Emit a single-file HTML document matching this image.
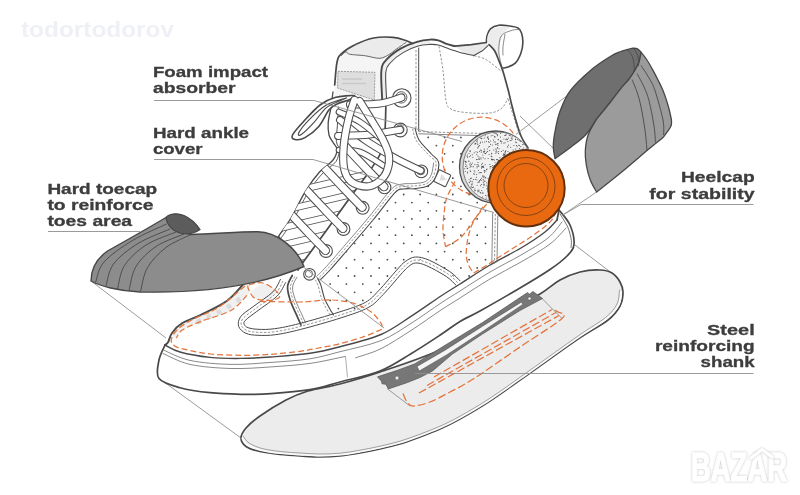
<!DOCTYPE html>
<html><head><meta charset="utf-8"><title>Shoe protection</title>
<style>
html,body{margin:0;padding:0;background:#fff;}
body{width:800px;height:495px;overflow:hidden;position:relative;}
svg{position:absolute;left:0;top:0;display:block;will-change:transform;}
.lbl{font-family:"Liberation Sans",sans-serif;font-weight:bold;font-size:15.3px;fill:#3d3d3d;stroke:#3d3d3d;stroke-width:.3;}
.o{fill:none;stroke:#494949;stroke-width:1.7;stroke-linecap:round;stroke-linejoin:round;}
.t{fill:none;stroke:#6a6a6a;stroke-width:.8;stroke-linecap:round;stroke-linejoin:round;}
.d{fill:none;stroke:#666;stroke-width:.7;stroke-dasharray:2.4 1.6;}
.od{fill:none;stroke:#e4743c;stroke-width:1.25;stroke-dasharray:6 3;stroke-linecap:butt;}
.ld{fill:none;stroke:#909090;stroke-width:.9;}
</style></head>
<body>
<svg width="800" height="495" viewBox="0 0 800 495">
<rect width="800" height="495" fill="#fff"/>
<path d="M91.0 281.0L166.0 338.0" class="ld"/>
<path d="M160.0 379.0L241.0 438.0" class="ld"/>
<path d="M575.0 245.0L609.0 271.0" class="ld"/>
<path d="M308.0 391.0C299.0 393.7 294.0 395.8 286.0 400.0C278.0 404.2 266.7 411.3 260.0 416.0C253.3 420.7 249.2 424.3 246.0 428.0C242.8 431.7 241.0 434.9 241.0 438.0C241.0 441.1 242.8 444.2 246.0 446.5C249.2 448.8 254.3 450.2 260.0 451.5C265.7 452.8 273.3 453.8 280.0 454.5C286.7 455.2 293.3 455.6 300.0 456.0C306.7 456.4 313.3 457.0 320.0 457.0C326.7 457.0 333.3 456.7 340.0 456.0C346.7 455.3 353.3 454.2 360.0 453.0C366.7 451.8 373.3 450.5 380.0 449.0C386.7 447.5 393.3 446.0 400.0 444.0C406.7 442.0 413.3 439.5 420.0 437.0C426.7 434.5 433.3 432.0 440.0 429.0C446.7 426.0 451.7 423.7 460.0 419.0C468.3 414.3 478.3 408.7 490.0 401.0C501.7 393.3 515.3 383.3 530.0 373.0C544.7 362.7 565.0 347.8 578.0 339.0C591.0 330.2 601.0 325.5 608.0 320.0C615.0 314.5 617.5 310.7 620.0 306.0C622.5 301.3 623.0 296.0 623.0 292.0C623.0 288.0 621.8 285.2 620.0 282.0C618.2 278.8 615.3 275.0 612.0 273.0C608.7 271.0 605.3 270.2 600.0 270.0C594.7 269.8 586.7 270.3 580.0 272.0C573.3 273.7 566.7 276.3 560.0 280.0C553.3 283.7 550.0 287.7 540.0 294.0C530.0 300.3 516.7 308.7 500.0 318.0C483.3 327.3 460.0 341.0 440.0 350.0C420.0 359.0 396.7 366.3 380.0 372.0C363.3 377.7 352.0 380.8 340.0 384.0C328.0 387.2 317.0 388.3 308.0 391.0Z" class="o" style="fill:#ececec"/>
<path d="M242.0 437.5C242.9 438.7 244.3 442.7 247.5 444.8C250.7 446.9 255.5 448.6 261.0 450.0C266.5 451.4 274.0 452.4 280.5 453.1C287.0 453.9 293.4 454.1 300.0 454.5C306.6 454.9 313.3 455.5 320.0 455.5C326.7 455.5 333.3 455.2 340.0 454.6C346.7 454.0 353.3 452.8 360.0 451.6C366.7 450.4 373.3 449.1 380.0 447.6C386.7 446.1 393.3 444.6 400.0 442.6C406.7 440.6 413.3 438.1 420.0 435.6C426.7 433.1 433.3 430.6 440.0 427.6C446.7 424.6 451.7 422.3 460.0 417.6C468.3 412.9 478.3 407.3 490.0 399.6C501.7 391.9 515.3 382.0 530.0 371.6C544.7 361.2 565.2 346.3 578.0 337.5C590.8 328.7 599.8 324.1 606.5 318.7C613.2 313.3 616.0 309.6 618.5 305.0C621.0 300.4 620.8 293.3 621.2 291.0" style="fill:none;stroke:#fafafa;stroke-width:2"/>
<path d="M243.5 436.5C244.4 437.6 245.9 441.0 249.0 443.0C252.1 445.0 256.7 447.1 262.0 448.5C267.3 449.9 274.7 450.9 281.0 451.6C287.3 452.4 293.5 452.6 300.0 453.0C306.5 453.4 313.3 454.0 320.0 454.0C326.7 454.0 333.3 453.8 340.0 453.2C346.7 452.6 353.3 451.4 360.0 450.2C366.7 449.0 373.3 447.7 380.0 446.2C386.7 444.7 393.3 443.2 400.0 441.2C406.7 439.2 413.3 436.7 420.0 434.2C426.7 431.7 433.3 429.2 440.0 426.2C446.7 423.2 451.7 420.9 460.0 416.2C468.3 411.5 478.3 405.9 490.0 398.2C501.7 390.5 515.3 380.6 530.0 370.2C544.7 359.8 565.4 344.8 578.0 336.0C590.6 327.2 599.0 322.8 605.5 317.5C612.0 312.2 614.7 308.6 617.0 304.0C619.3 299.4 619.1 292.3 619.5 290.0" class="t" style="stroke:#8a8a8a"/>
<path d="M387.0 388.5L410.0 406.0" class="ld"/>
<path d="M541.0 297.5L562.0 318.5" class="ld"/>
<path d="M434.0 377.0L552.0 309.5" class="od" style="stroke-dasharray:8 3"/>
<path d="M427.0 385.5L556.0 312.5" class="od" style="stroke-dasharray:8 3"/>
<path d="M419.0 393.0L559.0 315.5" class="od" style="stroke-dasharray:8 3"/>
<path d="M403.0 393.5C403.7 394.9 405.3 399.9 407.0 402.0C408.7 404.1 409.2 406.0 413.0 406.0C416.8 406.0 423.8 404.3 430.0 402.0C436.2 399.7 442.7 395.9 450.0 392.0C457.3 388.1 462.3 386.0 474.0 378.5C485.7 371.0 505.3 357.0 520.0 347.0C534.7 337.0 555.7 324.3 562.0 318.5C568.3 312.7 559.7 313.5 558.0 312.0C556.3 310.5 553.0 309.9 552.0 309.5" class="od" style="stroke-dasharray:8 3"/>
<path d="M377.5 376.8L397.5 370.3L415.0 363.8L445.0 345.3L482.5 322.5L520.0 297.5L527.5 292.5L529.5 294.2L533.0 291.5L542.5 298.5L520.0 310.5L482.5 334.0L452.5 354.0L432.5 371.0L420.0 377.5L407.5 382.5L388.5 388.9L385.7 384.2L382.0 383.8L381.5 381.2Z" style="fill:#777;stroke:#555;stroke-width:.7;stroke-linejoin:round"/>
<path d="M417 366.4L445 350.2L482.5 326.2L521.5 302L522.8 304.4L484 330.6L446.5 355L419.3 371Z" style="fill:#f4f4f4;stroke:#555;stroke-width:.6;stroke-linejoin:round"/>
<circle cx="397" cy="378" r="1.9" fill="#f0f0f0" stroke="#555" stroke-width=".5"/>
<circle cx="529.5" cy="298.5" r="1.6" fill="#f0f0f0" stroke="#555" stroke-width=".5"/>
<path d="M165.0 345.0C164.0 347.5 160.0 354.4 159.0 360.0C158.0 365.6 155.5 374.0 159.0 378.6C162.5 383.2 171.5 385.4 180.0 387.7C188.5 390.0 199.8 391.6 210.0 392.7C220.2 393.8 230.8 394.1 241.0 394.3C251.2 394.5 259.5 394.5 271.0 393.7C282.5 392.9 298.5 391.6 310.0 389.7C321.5 387.8 328.3 385.1 340.0 382.0C351.7 378.9 368.2 375.7 380.0 371.0C391.8 366.3 400.8 359.8 411.0 353.7C421.2 347.6 432.8 339.9 441.0 334.5C449.2 329.1 453.5 325.3 460.0 321.4C466.5 317.5 470.0 316.6 480.0 311.0C490.0 305.4 508.3 294.9 520.0 288.0C531.7 281.1 542.2 274.8 550.0 269.5C557.8 264.2 563.0 260.2 567.0 256.0C571.0 251.8 573.5 249.7 574.0 244.5C574.5 239.3 572.5 230.8 570.0 225.0C567.5 219.2 560.8 212.5 559.0 210.0 L545 232 L165 345Z" style="fill:#fff;stroke:none"/>
<path d="M165.0 345.0C164.0 347.5 160.0 354.4 159.0 360.0C158.0 365.6 155.5 374.0 159.0 378.6C162.5 383.2 171.5 385.4 180.0 387.7C188.5 390.0 199.8 391.6 210.0 392.7C220.2 393.8 230.8 394.1 241.0 394.3C251.2 394.5 259.5 394.5 271.0 393.7C282.5 392.9 298.5 391.6 310.0 389.7C321.5 387.8 328.3 385.1 340.0 382.0C351.7 378.9 368.2 375.7 380.0 371.0C391.8 366.3 400.8 359.8 411.0 353.7C421.2 347.6 432.8 339.9 441.0 334.5C449.2 329.1 453.5 325.3 460.0 321.4C466.5 317.5 470.0 316.6 480.0 311.0C490.0 305.4 508.3 294.9 520.0 288.0C531.7 281.1 542.2 274.8 550.0 269.5C557.8 264.2 563.0 260.2 567.0 256.0C571.0 251.8 573.5 249.7 574.0 244.5C574.5 239.3 572.5 230.8 570.0 225.0C567.5 219.2 560.8 212.5 559.0 210.0" class="o"/>
<path d="M164.0 350.3C168.3 352.0 178.8 358.0 190.0 360.4C201.2 362.8 217.5 364.1 231.0 364.4C244.5 364.7 257.8 363.3 271.0 362.4C284.2 361.5 298.5 360.6 310.0 358.8C321.5 357.0 328.2 354.7 340.0 351.7C351.8 348.7 369.2 345.3 381.0 340.6C392.8 335.9 401.0 329.7 411.0 323.4C421.0 317.1 432.8 308.4 441.0 303.0C449.2 297.6 451.8 296.2 460.0 291.0C468.2 285.8 479.8 278.0 490.0 272.0C500.2 266.0 511.3 260.7 521.0 255.0C530.7 249.3 541.2 243.5 548.0 238.0C554.8 232.5 559.7 224.7 562.0 222.0" class="t"/>
<path d="M163.0 353.5C167.5 355.3 178.7 361.9 190.0 364.4C201.3 366.9 217.5 368.1 231.0 368.5C244.5 368.9 257.8 367.8 271.0 366.9C284.2 366.0 297.7 365.1 310.0 363.4C322.3 361.7 339.2 357.6 345.0 356.5" class="t"/>
<path d="M355.6 357.8C359.8 356.3 371.8 353.2 381.0 348.7C390.2 344.1 401.0 336.9 411.0 330.5C421.0 324.1 432.8 315.4 441.0 310.0C449.2 304.6 451.8 303.2 460.0 298.0C468.2 292.8 479.8 285.0 490.0 279.0C500.2 273.0 511.0 267.8 521.0 262.0C531.0 256.2 542.5 249.7 550.0 244.0C557.5 238.3 563.3 230.7 566.0 228.0" class="t"/>
<path d="M345.5 356.4L347.5 377.0" class="t" style="stroke:#999"/>
<path d="M560.0 214.0C560.8 215.3 563.5 219.4 565.0 222.0C566.5 224.6 567.7 226.5 568.7 229.5C569.8 232.5 570.9 237.2 571.3 240.2C571.7 243.2 571.0 246.3 571.0 247.5" class="t" style="stroke:#4d4d4d"/>
<path d="M165.0 345.0L168.5 340.0L172.2 332.7L182.3 322.6L200.5 314.5L226.8 300.4L243.0 284.0L262.0 274.0L296.0 264.0L316.0 232.0L330.0 205.0L338.0 180.0L340.0 160.0L336.0 130.0L335.0 83.0L337.0 60.0L346.0 50.0L366.0 40.0L389.0 38.0L405.0 40.0L417.0 42.0L433.0 39.0L445.0 41.0L454.0 46.0L470.0 44.6L486.0 42.0L492.5 43.0L498.6 56.0L503.6 70.5L508.7 90.7L512.0 105.0L516.0 120.0L522.0 140.0L540.0 180.0L557.0 220.0L557.0 220.0L545.0 232.0L521.0 248.0L490.0 265.0L460.0 284.0L441.0 296.0L411.0 316.4L381.0 334.5L340.0 346.7L310.0 353.3L271.0 357.0L241.0 358.4L210.0 357.4L180.0 352.0L165.0 345.0Z" style="fill:#fff;stroke:none"/>
<path d="M165.0 345.0C167.5 346.2 172.5 349.9 180.0 352.0C187.5 354.1 199.8 356.3 210.0 357.4C220.2 358.5 230.8 358.5 241.0 358.4C251.2 358.3 259.5 357.9 271.0 357.0C282.5 356.1 298.5 355.0 310.0 353.3C321.5 351.6 328.2 349.8 340.0 346.7C351.8 343.6 369.2 339.6 381.0 334.5C392.8 329.4 401.0 322.8 411.0 316.4C421.0 310.0 432.8 301.4 441.0 296.0C449.2 290.6 451.8 289.2 460.0 284.0C468.2 278.8 479.8 271.0 490.0 265.0C500.2 259.0 511.8 253.5 521.0 248.0C530.2 242.5 539.0 236.7 545.0 232.0C551.0 227.3 555.0 222.0 557.0 220.0" class="o" style="stroke-width:1.4"/>
<path d="M245.0 285.0C240.2 285.3 233.4 295.2 226.0 300.0C218.6 304.8 207.8 310.2 200.5 314.0C193.2 317.8 186.9 319.4 182.3 322.6C177.7 325.8 174.0 330.4 173.0 333.0C172.0 335.6 174.8 338.5 176.3 338.0C177.9 337.5 178.3 332.7 182.3 330.0C186.3 327.3 192.4 324.9 200.5 321.6C208.6 318.4 223.1 314.9 230.8 310.5C238.6 306.1 241.8 299.8 247.0 295.4C252.2 291.0 257.3 285.1 262.0 284.0C266.7 282.9 273.7 286.5 275.0 289.0C276.3 291.5 273.3 297.5 270.0 299.0C266.7 300.5 259.2 300.3 255.0 298.0C250.8 295.7 249.8 284.7 245.0 285.0Z" style="fill:#f0f0f0"/>
<rect x="196.7" y="319.0" width="4.6" height="5" fill="#dcdcdc" transform="rotate(-28 199.0 321.5)"/>
<rect x="206.7" y="314.3" width="4.6" height="5" fill="#dcdcdc" transform="rotate(-28 209.0 316.8)"/>
<rect x="216.7" y="309.5" width="4.6" height="5" fill="#dcdcdc" transform="rotate(-30 219.0 312.0)"/>
<rect x="226.7" y="304.0" width="4.6" height="5" fill="#dcdcdc" transform="rotate(-33 229.0 306.5)"/>
<rect x="236.2" y="297.5" width="4.6" height="5" fill="#dcdcdc" transform="rotate(-38 238.5 300.0)"/>
<path d="M165.0 345.0C165.5 344.5 167.0 344.1 168.2 342.0C169.4 339.9 169.8 335.9 172.2 332.7C174.5 329.5 177.6 325.9 182.3 323.0C187.0 320.1 193.1 318.7 200.5 315.0C207.9 311.3 219.7 306.1 226.8 301.0C233.9 295.9 240.3 287.2 243.0 284.5" class="o" style="stroke-width:1.9"/>
<path d="M334.7 85.0C335.1 81.2 335.9 67.4 337.0 62.3C338.1 57.2 338.2 57.0 341.0 54.2C343.8 51.4 348.6 48.0 354.0 45.3C359.4 42.6 367.0 39.3 373.5 38.0C380.0 36.7 387.6 36.9 393.0 37.3C398.4 37.7 402.5 39.4 405.8 40.5C409.1 41.6 411.8 43.2 413.0 43.7L384 60L382 102L335 102Z" style="fill:#f5f5f5"/>
<path d="M341.0 54.2C343.2 52.7 348.6 48.0 354.0 45.3C359.4 42.6 367.0 39.3 373.5 38.0C380.0 36.7 387.6 36.9 393.0 37.3C398.4 37.7 403.7 40.0 405.8 40.5L406.0 42.5C404.3 43.6 398.7 47.4 396.0 49.4C393.3 51.4 392.3 52.7 389.6 54.2C386.9 55.7 384.0 58.0 380.0 58.3C376.0 58.6 370.5 56.5 365.4 55.8C360.3 55.1 352.7 54.9 349.5 54.2C346.3 53.5 347.3 51.6 346.0 51.8C344.7 52.0 342.2 54.9 341.5 55.5Z" style="fill:#ebebeb"/>
<path d="M334.7 85.0C335.1 81.2 335.9 67.4 337.0 62.3C338.1 57.2 338.2 57.0 341.0 54.2C343.8 51.4 348.6 48.0 354.0 45.3C359.4 42.6 367.0 39.3 373.5 38.0C380.0 36.7 387.6 36.9 393.0 37.3C398.4 37.7 402.5 39.4 405.8 40.5C409.1 41.6 411.8 43.2 413.0 43.7" class="o"/>
<path d="M341.5 55.5C342.2 54.9 344.7 52.0 346.0 51.8C347.3 51.6 346.3 53.5 349.5 54.2C352.7 54.9 360.3 55.1 365.4 55.8C370.5 56.5 376.0 58.6 380.0 58.3C384.0 58.0 386.9 55.7 389.6 54.2C392.3 52.7 393.3 51.4 396.0 49.4C398.7 47.4 404.3 43.6 406.0 42.5" class="t" style="stroke:#555;stroke-width:.9"/>
<path d="M338 71.3L375 72.3L374.3 100L337.5 88Z" fill="#dedede" stroke="#8a8a8a" stroke-width=".8" stroke-dasharray="2 1"/>
<path d="M342 79h20M342 83.5h24" stroke="#c9c9c9" stroke-width="1.4" fill="none"/>
<path d="M381.6 100.0C381.6 95.1 380.5 77.3 381.4 70.5C382.2 63.7 383.4 63.1 386.7 59.4C390.0 55.7 395.9 51.2 401.0 48.3C406.1 45.4 412.2 43.2 417.0 41.8C421.8 40.3 427.8 40.0 430.0 39.6L430 44.4430.0 44.4C428.0 44.7 422.4 44.7 418.0 46.0C413.6 47.3 408.1 49.6 403.5 52.4C398.9 55.1 393.6 59.2 390.7 62.5C387.8 65.8 386.5 65.8 385.8 72.0C385.1 78.2 386.5 95.3 386.6 100.0Z" style="fill:#eeeeee"/>
<path d="M454.8 46L471.3 44.6L486.4 42.5L489 44.6L474 55.6L464.4 53.5Z" fill="#e9e9e9"/>
<path d="M382.2 100.0C382.1 95.1 380.6 77.3 381.4 70.5C382.1 63.7 383.4 63.1 386.7 59.4C390.0 55.7 395.9 51.2 401.0 48.3C406.1 45.4 412.2 43.2 417.0 41.8C421.8 40.3 426.4 39.8 430.0 39.6C433.6 39.4 435.6 39.7 438.3 40.4C441.1 41.1 443.8 42.9 446.5 43.9C449.2 44.9 453.4 45.8 454.8 46.2" class="o" style="stroke-width:1.9"/>
<path d="M454.8 46.2L471.3 44.6L486.4 42.5" class="o" style="stroke-width:1.7"/>
<path d="M386.6 100.0C386.5 95.3 385.1 78.2 385.8 72.0C386.5 65.8 387.8 65.8 390.7 62.5C393.6 59.2 398.9 55.1 403.5 52.4C408.1 49.6 413.6 47.3 418.0 46.0C422.4 44.7 426.6 44.6 430.0 44.4C433.4 44.2 434.9 44.2 438.3 45.0C441.7 45.8 446.2 48.0 450.6 49.4C455.0 50.8 460.5 52.5 464.4 53.5C468.3 54.5 472.4 55.2 474.0 55.6" class="t" style="stroke:#4d4d4d;stroke-width:1.1"/>
<path d="M474.0 55.6L482.3 50.8L489.1 44.6" class="t" style="stroke:#4d4d4d;stroke-width:1.1"/>
<path d="M486.4 42.5C486.5 41.4 486.4 37.9 487.1 35.6C487.8 33.3 488.6 30.5 490.5 28.8C492.4 27.1 495.6 25.8 498.8 25.3C502.0 24.8 506.6 25.6 509.8 26.0C513.0 26.4 516.0 26.9 518.0 28.0C520.0 29.1 520.7 30.5 521.5 32.9C522.3 35.3 523.0 39.1 522.9 42.5C522.8 45.9 522.1 50.1 520.8 53.5C519.5 56.9 517.6 60.8 515.3 63.1C513.0 65.4 509.1 66.5 507.0 67.3C504.9 68.1 503.7 67.9 503.0 68.0" class="o" style="fill:#fff;stroke-width:1.6"/>
<path d="M487.1 40L488 34.5L491.5 29.5L499 26.5L510 27L502 34.5L499 49L500 60L489.5 45Z" fill="#ececec"/>
<path d="M519.4 29.6C518.2 29.7 515.5 29.2 512.5 30.2C509.5 31.2 503.8 32.4 501.5 35.6C499.2 38.8 499.0 45.3 498.8 49.4C498.6 53.5 499.5 57.0 500.2 60.4C500.9 63.8 502.5 68.4 503.0 70.0" class="t"/>
<path d="M505.0 34.3C504.7 36.3 503.3 43.1 503.0 46.6C502.7 50.1 503.0 53.6 503.0 55.0" class="t"/>
<path d="M489.0 44.6C489.9 45.6 493.0 48.2 494.6 50.8C496.2 53.4 497.4 57.0 498.8 60.4C500.2 63.8 501.8 67.8 503.0 71.4C504.2 75.0 505.1 78.6 506.0 82.0C506.9 85.4 507.8 88.2 508.7 92.0C509.6 95.8 510.5 100.1 511.7 104.8C512.9 109.5 514.2 114.8 515.8 120.0C517.3 125.2 519.0 131.3 521.0 136.0C523.0 140.7 526.8 146.0 528.0 148.0" class="o"/>
<path d="M559.0 210.0C558.7 211.7 557.3 218.3 557.0 220.0" class="o"/>
<clipPath id="cd"><path d="M373.0 220.0L350.0 247.0L330.0 270.0L321.0 280.0L324.0 298.0L333.0 316.0L350.0 312.0L370.0 302.0L384.0 289.0L402.0 269.0L410.0 262.0L418.0 259.0L430.0 262.0L450.0 273.0L460.0 284.0L491.0 264.0L492.0 200.0L491.0 165.0L485.0 150.0L470.0 138.0L445.0 133.0L419.0 130.0L431.4 154.0L438.5 162.0L436.0 176.5L428.0 185.8L415.0 188.5L403.0 189.0L395.0 192.6Z"/></clipPath>
<path d="M313.8 137.4h.01M330.1 137.4h.01M346.4 137.4h.01M362.8 137.4h.01M379.2 137.4h.01M395.5 137.4h.01M411.9 137.4h.01M428.2 137.4h.01M444.6 137.4h.01M460.9 137.4h.01M477.2 137.4h.01M493.6 137.4h.01M510.0 137.4h.01M526.3 137.4h.01M542.7 137.4h.01M559.0 137.4h.01M305.6 145.6h.01M321.9 145.6h.01M338.3 145.6h.01M354.6 145.6h.01M371.0 145.6h.01M387.4 145.6h.01M403.7 145.6h.01M420.1 145.6h.01M436.4 145.6h.01M452.8 145.6h.01M469.1 145.6h.01M485.5 145.6h.01M501.8 145.6h.01M518.1 145.6h.01M534.5 145.6h.01M550.9 145.6h.01M313.8 153.8h.01M330.1 153.8h.01M346.4 153.8h.01M362.8 153.8h.01M379.2 153.8h.01M395.5 153.8h.01M411.9 153.8h.01M428.2 153.8h.01M444.6 153.8h.01M460.9 153.8h.01M477.2 153.8h.01M493.6 153.8h.01M510.0 153.8h.01M526.3 153.8h.01M542.7 153.8h.01M559.0 153.8h.01M305.6 161.9h.01M321.9 161.9h.01M338.3 161.9h.01M354.6 161.9h.01M371.0 161.9h.01M387.4 161.9h.01M403.7 161.9h.01M420.1 161.9h.01M436.4 161.9h.01M452.8 161.9h.01M469.1 161.9h.01M485.5 161.9h.01M501.8 161.9h.01M518.1 161.9h.01M534.5 161.9h.01M550.9 161.9h.01M313.8 170.0h.01M330.1 170.0h.01M346.4 170.0h.01M362.8 170.0h.01M379.2 170.0h.01M395.5 170.0h.01M411.9 170.0h.01M428.2 170.0h.01M444.6 170.0h.01M460.9 170.0h.01M477.2 170.0h.01M493.6 170.0h.01M510.0 170.0h.01M526.3 170.0h.01M542.7 170.0h.01M559.0 170.0h.01M305.6 178.2h.01M321.9 178.2h.01M338.3 178.2h.01M354.6 178.2h.01M371.0 178.2h.01M387.4 178.2h.01M403.7 178.2h.01M420.1 178.2h.01M436.4 178.2h.01M452.8 178.2h.01M469.1 178.2h.01M485.5 178.2h.01M501.8 178.2h.01M518.1 178.2h.01M534.5 178.2h.01M550.9 178.2h.01M313.8 186.3h.01M330.1 186.3h.01M346.4 186.3h.01M362.8 186.3h.01M379.2 186.3h.01M395.5 186.3h.01M411.9 186.3h.01M428.2 186.3h.01M444.6 186.3h.01M460.9 186.3h.01M477.2 186.3h.01M493.6 186.3h.01M510.0 186.3h.01M526.3 186.3h.01M542.7 186.3h.01M559.0 186.3h.01M305.6 194.5h.01M321.9 194.5h.01M338.3 194.5h.01M354.6 194.5h.01M371.0 194.5h.01M387.4 194.5h.01M403.7 194.5h.01M420.1 194.5h.01M436.4 194.5h.01M452.8 194.5h.01M469.1 194.5h.01M485.5 194.5h.01M501.8 194.5h.01M518.1 194.5h.01M534.5 194.5h.01M550.9 194.5h.01M313.8 202.6h.01M330.1 202.6h.01M346.4 202.6h.01M362.8 202.6h.01M379.2 202.6h.01M395.5 202.6h.01M411.9 202.6h.01M428.2 202.6h.01M444.6 202.6h.01M460.9 202.6h.01M477.2 202.6h.01M493.6 202.6h.01M510.0 202.6h.01M526.3 202.6h.01M542.7 202.6h.01M559.0 202.6h.01M305.6 210.8h.01M321.9 210.8h.01M338.3 210.8h.01M354.6 210.8h.01M371.0 210.8h.01M387.4 210.8h.01M403.7 210.8h.01M420.1 210.8h.01M436.4 210.8h.01M452.8 210.8h.01M469.1 210.8h.01M485.5 210.8h.01M501.8 210.8h.01M518.1 210.8h.01M534.5 210.8h.01M550.9 210.8h.01M313.8 218.9h.01M330.1 218.9h.01M346.4 218.9h.01M362.8 218.9h.01M379.2 218.9h.01M395.5 218.9h.01M411.9 218.9h.01M428.2 218.9h.01M444.6 218.9h.01M460.9 218.9h.01M477.2 218.9h.01M493.6 218.9h.01M510.0 218.9h.01M526.3 218.9h.01M542.7 218.9h.01M559.0 218.9h.01M305.6 227.1h.01M321.9 227.1h.01M338.3 227.1h.01M354.6 227.1h.01M371.0 227.1h.01M387.4 227.1h.01M403.7 227.1h.01M420.1 227.1h.01M436.4 227.1h.01M452.8 227.1h.01M469.1 227.1h.01M485.5 227.1h.01M501.8 227.1h.01M518.1 227.1h.01M534.5 227.1h.01M550.9 227.1h.01M313.8 235.2h.01M330.1 235.2h.01M346.4 235.2h.01M362.8 235.2h.01M379.2 235.2h.01M395.5 235.2h.01M411.9 235.2h.01M428.2 235.2h.01M444.6 235.2h.01M460.9 235.2h.01M477.2 235.2h.01M493.6 235.2h.01M510.0 235.2h.01M526.3 235.2h.01M542.7 235.2h.01M559.0 235.2h.01M305.6 243.4h.01M321.9 243.4h.01M338.3 243.4h.01M354.6 243.4h.01M371.0 243.4h.01M387.4 243.4h.01M403.7 243.4h.01M420.1 243.4h.01M436.4 243.4h.01M452.8 243.4h.01M469.1 243.4h.01M485.5 243.4h.01M501.8 243.4h.01M518.1 243.4h.01M534.5 243.4h.01M550.9 243.4h.01M313.8 251.6h.01M330.1 251.6h.01M346.4 251.6h.01M362.8 251.6h.01M379.2 251.6h.01M395.5 251.6h.01M411.9 251.6h.01M428.2 251.6h.01M444.6 251.6h.01M460.9 251.6h.01M477.2 251.6h.01M493.6 251.6h.01M510.0 251.6h.01M526.3 251.6h.01M542.7 251.6h.01M559.0 251.6h.01M305.6 259.7h.01M321.9 259.7h.01M338.3 259.7h.01M354.6 259.7h.01M371.0 259.7h.01M387.4 259.7h.01M403.7 259.7h.01M420.1 259.7h.01M436.4 259.7h.01M452.8 259.7h.01M469.1 259.7h.01M485.5 259.7h.01M501.8 259.7h.01M518.1 259.7h.01M534.5 259.7h.01M550.9 259.7h.01M313.8 267.9h.01M330.1 267.9h.01M346.4 267.9h.01M362.8 267.9h.01M379.2 267.9h.01M395.5 267.9h.01M411.9 267.9h.01M428.2 267.9h.01M444.6 267.9h.01M460.9 267.9h.01M477.2 267.9h.01M493.6 267.9h.01M510.0 267.9h.01M526.3 267.9h.01M542.7 267.9h.01M559.0 267.9h.01M305.6 276.0h.01M321.9 276.0h.01M338.3 276.0h.01M354.6 276.0h.01M371.0 276.0h.01M387.4 276.0h.01M403.7 276.0h.01M420.1 276.0h.01M436.4 276.0h.01M452.8 276.0h.01M469.1 276.0h.01M485.5 276.0h.01M501.8 276.0h.01M518.1 276.0h.01M534.5 276.0h.01M550.9 276.0h.01M313.8 284.1h.01M330.1 284.1h.01M346.4 284.1h.01M362.8 284.1h.01M379.2 284.1h.01M395.5 284.1h.01M411.9 284.1h.01M428.2 284.1h.01M444.6 284.1h.01M460.9 284.1h.01M477.2 284.1h.01M493.6 284.1h.01M510.0 284.1h.01M526.3 284.1h.01M542.7 284.1h.01M559.0 284.1h.01M305.6 292.3h.01M321.9 292.3h.01M338.3 292.3h.01M354.6 292.3h.01M371.0 292.3h.01M387.4 292.3h.01M403.7 292.3h.01M420.1 292.3h.01M436.4 292.3h.01M452.8 292.3h.01M469.1 292.3h.01M485.5 292.3h.01M501.8 292.3h.01M518.1 292.3h.01M534.5 292.3h.01M550.9 292.3h.01M313.8 300.4h.01M330.1 300.4h.01M346.4 300.4h.01M362.8 300.4h.01M379.2 300.4h.01M395.5 300.4h.01M411.9 300.4h.01M428.2 300.4h.01M444.6 300.4h.01M460.9 300.4h.01M477.2 300.4h.01M493.6 300.4h.01M510.0 300.4h.01M526.3 300.4h.01M542.7 300.4h.01M559.0 300.4h.01M305.6 308.6h.01M321.9 308.6h.01M338.3 308.6h.01M354.6 308.6h.01M371.0 308.6h.01M387.4 308.6h.01M403.7 308.6h.01M420.1 308.6h.01M436.4 308.6h.01M452.8 308.6h.01M469.1 308.6h.01M485.5 308.6h.01M501.8 308.6h.01M518.1 308.6h.01M534.5 308.6h.01M550.9 308.6h.01M313.8 316.8h.01M330.1 316.8h.01M346.4 316.8h.01M362.8 316.8h.01M379.2 316.8h.01M395.5 316.8h.01M411.9 316.8h.01M428.2 316.8h.01M444.6 316.8h.01M460.9 316.8h.01M477.2 316.8h.01M493.6 316.8h.01M510.0 316.8h.01M526.3 316.8h.01M542.7 316.8h.01M559.0 316.8h.01M305.6 324.9h.01M321.9 324.9h.01M338.3 324.9h.01M354.6 324.9h.01M371.0 324.9h.01M387.4 324.9h.01M403.7 324.9h.01M420.1 324.9h.01M436.4 324.9h.01M452.8 324.9h.01M469.1 324.9h.01M485.5 324.9h.01M501.8 324.9h.01M518.1 324.9h.01M534.5 324.9h.01M550.9 324.9h.01" clip-path="url(#cd)" fill="none" stroke="#4a4a4a" stroke-width="1.8" stroke-linecap="round"/>
<path d="M415.0 128.0C415.7 130.0 416.3 135.7 419.0 140.0C421.7 144.3 428.1 150.3 431.4 154.0C434.6 157.7 437.7 158.2 438.5 162.0C439.3 165.8 437.8 172.5 436.0 176.5C434.2 180.5 431.5 183.8 428.0 185.8C424.5 187.8 419.2 188.0 415.0 188.5C410.8 189.0 406.3 188.3 403.0 189.0C399.7 189.7 400.0 187.4 395.0 192.6C390.0 197.8 380.5 210.9 373.0 220.0C365.5 229.1 357.2 238.7 350.0 247.0C342.8 255.3 334.9 264.6 330.0 270.0C325.1 275.4 322.2 277.9 320.6 279.5" class="o" style="stroke-width:1.1"/>
<path d="M412.5 128.8C413.2 130.9 414.0 136.9 416.8 141.4C419.6 145.9 426.3 152.2 429.5 155.7C432.6 159.2 435.3 159.2 436.0 162.5C436.6 165.8 435.2 171.9 433.6 175.5C432.1 179.0 429.9 181.8 426.7 183.5C423.6 185.3 418.7 185.4 414.7 185.9C410.6 186.4 406.1 185.6 402.5 186.5C398.9 187.3 398.4 185.5 393.1 190.8C387.9 196.1 378.5 209.3 371.0 218.3C363.5 227.4 355.2 237.0 348.0 245.3C340.9 253.6 333.0 262.9 328.1 268.3C323.2 273.7 320.3 276.1 318.8 277.7" class="d"/>
<path d="M433.6 163.0C433.2 164.9 432.8 171.4 431.4 174.5C430.1 177.6 428.4 179.9 425.5 181.5C422.7 183.0 418.3 183.1 414.4 183.5C410.4 184.0 405.8 183.2 402.0 184.1C398.2 185.0 396.9 183.7 391.4 189.1C385.9 194.6 376.7 207.7 369.1 216.8C361.6 225.9 353.4 235.4 346.2 243.7C339.1 252.0 331.2 261.3 326.3 266.6C321.4 272.0 318.6 274.4 317.0 276.0" class="t"/>
<path d="M317.6 278.4C318.1 279.4 319.4 281.0 320.6 284.4C321.8 287.8 323.1 294.6 324.6 298.6C326.1 302.7 328.2 306.0 329.7 308.7C331.2 311.4 332.9 313.9 333.5 315.0" class="o" style="stroke-width:1.1"/>
<path d="M315.1 279.7C315.6 280.6 316.8 282.0 318.0 285.3C319.1 288.6 320.4 295.5 322.0 299.6C323.5 303.7 325.7 307.2 327.2 310.0C328.8 312.8 330.5 315.4 331.1 316.4" class="d"/>
<path d="M292.3 275.4C291.5 277.2 287.9 282.3 287.6 286.5C287.3 290.7 288.7 295.6 290.3 300.6C291.9 305.7 295.6 312.7 297.4 316.8C299.2 320.9 300.4 323.6 301.0 325.0" class="o" style="stroke-width:1.7"/>
<path d="M294.9 276.5C294.1 278.2 290.7 282.8 290.4 286.7C290.1 290.6 291.4 294.9 293.0 299.7C294.6 304.6 298.2 311.7 300.0 315.7C301.7 319.7 303.0 322.5 303.6 323.9" class="d"/>
<path d="M296.9 277.3C296.2 278.9 292.9 283.3 292.6 286.9C292.3 290.5 293.5 294.4 295.1 299.1C296.6 303.7 300.2 310.8 302.0 314.8C303.7 318.8 305.0 321.6 305.6 323.0" class="t"/>
<path d="M280.4 279.4C279.2 281.5 277.4 287.3 272.9 291.9C268.3 296.4 258.5 302.5 253.2 306.6C247.8 310.7 243.1 313.3 240.7 316.6C238.3 319.9 237.8 323.7 238.7 326.4C239.5 329.2 242.7 331.8 245.9 333.3C249.1 334.7 252.9 335.1 257.9 335.3C262.8 335.5 268.3 335.7 275.4 334.7C282.6 333.7 289.8 332.2 300.7 329.4C311.7 326.6 329.7 321.5 340.9 317.9C352.2 314.2 361.1 311.5 368.1 307.6C375.2 303.8 377.6 300.2 383.1 294.6C388.7 289.0 396.9 278.7 401.2 274.0C405.5 269.3 406.4 268.3 408.8 266.4C411.2 264.6 412.6 263.1 415.6 263.0C418.7 262.9 421.7 263.5 426.8 265.8C431.9 268.0 441.5 273.3 446.3 276.5C451.2 279.7 454.4 283.8 456.0 285.2" class="o" style="stroke-width:1"/>
<path d="M283.0 281.0C281.7 283.2 279.7 289.3 275.0 294.0C270.3 298.7 260.3 304.9 255.0 309.0C249.7 313.1 245.2 315.8 243.0 318.5C240.8 321.2 240.8 323.5 241.5 325.5C242.2 327.5 244.2 329.4 247.0 330.5C249.8 331.6 253.3 332.1 258.0 332.3C262.7 332.5 268.0 332.7 275.0 331.7C282.0 330.7 289.2 329.3 300.0 326.5C310.8 323.7 328.9 318.6 340.0 315.0C351.1 311.4 359.9 308.8 366.7 305.0C373.5 301.2 375.6 298.0 381.0 292.5C386.4 287.0 394.7 276.8 399.0 272.0C403.3 267.2 404.2 266.0 407.0 264.0C409.8 262.0 412.0 260.2 415.5 260.0C419.0 259.8 422.6 260.7 428.0 263.0C433.4 265.3 443.0 270.7 448.0 274.0C453.0 277.3 456.3 281.5 458.0 283.0" class="d"/>
<path d="M285.6 282.6C284.1 284.8 281.9 291.3 277.1 296.1C272.3 300.9 262.1 307.3 256.8 311.4C251.5 315.4 247.4 318.2 245.3 320.4C243.2 322.6 243.9 323.3 244.3 324.6C244.8 325.8 245.8 326.9 248.1 327.7C250.4 328.5 253.7 329.1 258.1 329.3C262.5 329.5 267.7 329.7 274.6 328.7C281.4 327.8 288.5 326.4 299.3 323.6C310.0 320.8 328.1 315.7 339.1 312.1C350.1 308.6 358.6 306.0 365.3 302.4C371.9 298.7 373.6 295.8 378.9 290.4C384.1 285.0 392.4 274.8 396.8 270.0C401.2 265.2 402.1 263.7 405.2 261.6C408.3 259.4 411.4 257.2 415.4 257.0C419.3 256.8 423.5 257.8 429.2 260.2C434.9 262.7 444.5 268.1 449.7 271.5C454.8 274.9 458.3 279.2 460.0 280.8" class="o" style="stroke-width:1"/>
<path d="M418.7 133.8L460.0 135.0L503.0 136.3" class="t"/>
<path d="M418.7 131.6L460.0 132.8L503.0 134.0" class="d"/>
<path d="M508.0 99.0C508.6 100.8 510.3 106.3 511.5 110.0C512.7 113.7 513.7 116.8 515.0 121.0C516.3 125.2 518.8 132.7 519.5 135.0" class="d"/>
<path d="M418.7 48.0L418.7 131.0" class="t" style="stroke:#4d4d4d;stroke-width:1"/>
<path d="M416.0 50.0L416.0 128.0" class="d"/>
<path d="M439.0 46.3C439.7 50.3 441.8 61.4 443.0 70.5C444.2 79.6 444.7 94.4 446.0 100.8C447.3 107.2 447.8 107.0 451.0 109.0C454.2 111.0 459.0 111.8 465.5 112.5C472.0 113.2 483.9 113.8 490.0 113.0C496.1 112.2 499.0 110.5 502.0 108.0C505.0 105.5 507.0 99.7 508.0 98.0" class="d"/>
<path d="M474.0 55.6C475.8 56.2 481.6 57.3 485.0 59.0C488.4 60.7 491.9 63.8 494.6 65.9C497.4 68.0 500.4 70.5 501.5 71.4" class="d"/>
<path d="M492.7 212.7L491.8 265.0" class="t"/>
<path d="M495.3 214.0L494.5 263.5" class="d"/>
<path d="M497.8 216.0L497.0 262.0" class="t"/>
<circle cx="481.5" cy="156.5" r="39.3" class="od"/>
<path d="M245.0 286.0C242.8 287.8 236.7 293.2 232.0 297.0C227.3 300.8 223.6 304.6 216.7 308.5C209.8 312.4 197.1 316.9 190.4 320.6C183.7 324.3 179.5 327.3 176.3 330.7C173.1 334.1 171.2 338.1 171.2 340.8C171.2 343.5 173.2 345.3 176.3 346.9C179.4 348.5 184.3 349.3 190.0 350.5C195.7 351.7 202.1 353.2 210.6 354.0C219.1 354.8 230.9 355.2 241.0 355.3C251.1 355.4 261.2 355.0 271.0 354.3C280.8 353.6 292.5 352.3 300.0 351.3C307.5 350.3 309.4 349.8 316.2 348.5C322.9 347.2 332.4 345.6 340.5 343.6C348.6 341.6 357.7 338.7 364.7 336.3C371.7 333.9 379.5 330.2 382.5 329.0C382.2 328.1 382.9 326.2 381.0 323.4C379.1 320.6 375.8 315.4 371.2 312.0C366.6 308.6 359.9 305.2 353.4 303.2C346.9 301.2 338.6 300.4 332.4 300.0C326.2 299.6 321.4 300.5 316.0 300.8C310.6 301.1 309.5 301.9 300.0 302.0C290.5 302.1 265.8 301.5 259.0 301.4" class="od"/>
<path d="M247.0 295.4C244.3 297.9 238.6 306.1 230.8 310.5C223.1 314.9 208.6 318.4 200.5 321.6C192.4 324.9 186.3 327.3 182.3 330.0C178.3 332.7 177.3 336.7 176.3 338.0" class="od"/>
<path d="M249.0 285.0C251.3 283.8 258.6 282.1 263.0 283.0C267.4 283.9 272.6 287.9 275.3 290.3C278.0 292.7 280.4 295.7 279.3 297.4C278.2 299.1 273.1 300.2 269.0 300.4C264.9 300.6 258.3 300.1 255.0 298.4C251.7 296.7 250.0 292.5 249.0 290.3C248.0 288.1 246.7 286.2 249.0 285.0Z" class="od"/>
<path d="M455.0 181.5C453.6 184.2 448.5 192.8 446.7 198.0C444.9 203.2 444.8 207.4 444.2 212.7C443.6 218.0 442.8 224.0 443.0 229.7C443.2 235.4 445.1 243.9 445.5 246.7" class="od"/>
<path d="M445.5 246.7C448.1 245.1 456.1 241.8 461.2 237.0C466.2 232.2 471.8 222.8 475.8 217.6C479.9 212.3 483.0 208.5 485.5 205.5C488.0 202.5 490.1 200.5 491.0 199.5" class="od"/>
<path d="M483.0 206.7C481.2 209.7 474.6 219.0 472.0 224.8C469.4 230.7 468.2 236.6 467.3 241.8C466.4 247.0 466.0 252.0 466.3 256.0C466.6 260.0 467.8 263.2 469.0 266.0C470.2 268.8 472.9 271.8 473.7 273.0" class="od"/>
<path d="M473.7 273.0C475.9 271.7 482.6 267.8 487.0 265.0C491.4 262.2 495.3 259.5 500.0 256.5C504.7 253.5 510.0 250.2 515.0 247.0C520.0 243.8 525.0 240.9 530.0 237.5C535.0 234.1 541.2 229.7 545.0 226.5C548.8 223.3 551.1 221.4 553.0 218.5C554.9 215.6 555.9 210.6 556.5 209.0" class="od"/>
<g transform="rotate(25 443 178)"><rect x="436" y="172" width="13" height="13" rx="1" fill="#fff" stroke="#4d4d4d" stroke-width="1"/><path d="M440 175L447 178L441 182Z" fill="#ddd"/></g>
<circle cx="495.5" cy="167" r="36" fill="#d8d8d8" stroke="#4d4d4d" stroke-width="1.3"/>
<circle cx="498" cy="167" r="35" fill="#f1f1f1" stroke="#666" stroke-width=".8"/>
<path d="M492.7 159.6h.01M478.0 162.4h.01M470.5 181.1h.01M475.0 143.2h.01M479.1 157.0h.01M509.5 152.8h.01M487.0 195.7h.01M484.7 151.1h.01M489.9 164.5h.01M488.6 146.9h.01M487.8 190.9h.01M480.2 172.4h.01M505.8 139.7h.01M466.6 162.0h.01M495.7 148.9h.01M472.2 181.6h.01M500.4 141.4h.01M489.2 142.3h.01M477.9 155.9h.01M515.7 139.1h.01M470.7 171.5h.01M477.6 140.0h.01M505.9 150.7h.01M477.1 185.3h.01M473.4 187.1h.01M467.6 157.2h.01M511.3 138.3h.01M477.8 191.8h.01M483.2 157.7h.01M480.6 185.7h.01M471.4 164.4h.01M494.5 159.9h.01M522.2 149.3h.01M519.4 145.5h.01M481.2 180.4h.01M488.1 158.4h.01M517.7 139.5h.01M474.9 172.0h.01M488.4 181.6h.01M504.5 155.0h.01M485.2 164.7h.01M492.6 165.5h.01M464.9 161.1h.01M516.5 145.5h.01M468.6 160.9h.01M510.7 135.7h.01M516.3 142.6h.01M510.2 140.4h.01M475.1 144.3h.01M510.7 147.2h.01M480.6 142.1h.01M498.0 143.5h.01M482.9 193.4h.01M471.1 186.2h.01M495.8 153.2h.01M483.1 187.3h.01M465.6 161.5h.01M469.0 179.8h.01M505.2 153.1h.01M484.0 185.3h.01M470.0 150.8h.01M469.4 182.6h.01M473.2 166.7h.01M493.4 166.3h.01M484.5 172.3h.01M494.1 141.9h.01M486.8 188.7h.01M469.7 156.7h.01M501.4 143.0h.01M470.6 155.8h.01M479.6 151.3h.01M469.8 164.8h.01M474.3 174.3h.01M465.3 171.5h.01M488.0 136.8h.01M467.3 154.9h.01M504.8 135.5h.01M491.1 156.1h.01M522.8 144.5h.01M479.0 181.2h.01M478.3 165.1h.01M497.2 162.3h.01M476.7 159.5h.01M480.7 149.9h.01M506.0 134.5h.01M469.3 182.2h.01M505.3 151.3h.01M472.3 154.8h.01M489.6 146.5h.01M477.8 144.2h.01M479.0 172.7h.01M467.1 156.3h.01M481.6 164.2h.01M499.1 148.7h.01M483.7 167.0h.01M495.3 141.9h.01M507.4 146.7h.01M467.0 168.0h.01M479.1 182.1h.01M485.2 135.8h.01M480.9 192.9h.01M490.7 140.9h.01M481.4 178.3h.01M517.1 146.8h.01M474.2 170.8h.01M476.8 154.3h.01M498.1 139.4h.01M491.2 135.8h.01M483.1 179.4h.01M493.6 140.1h.01M494.9 136.5h.01M466.9 166.1h.01M508.4 137.9h.01M470.3 150.8h.01M486.4 141.2h.01M472.9 157.3h.01M478.3 147.0h.01M506.7 138.9h.01M473.1 166.5h.01M493.3 159.6h.01M496.6 150.0h.01M496.0 151.7h.01M495.9 133.5h.01M477.0 167.8h.01M470.1 170.7h.01M500.8 140.4h.01M492.1 159.6h.01M497.2 148.3h.01M494.5 165.4h.01M484.7 142.0h.01M489.7 150.6h.01M474.9 164.6h.01M486.6 169.5h.01M512.2 136.7h.01M481.3 172.5h.01M508.4 145.1h.01M519.6 148.4h.01M492.7 167.5h.01M480.2 172.7h.01M485.4 195.5h.01M483.2 182.3h.01M483.7 184.1h.01M483.2 166.0h.01M474.7 190.8h.01M520.9 146.6h.01M475.9 143.2h.01M496.6 159.6h.01M495.5 144.3h.01M498.5 139.7h.01M478.4 170.5h.01M487.6 151.5h.01M478.0 159.5h.01M482.1 167.3h.01M526.2 148.1h.01M485.9 170.9h.01M469.0 153.4h.01M498.0 145.2h.01M476.9 179.7h.01M483.9 180.8h.01M471.0 166.4h.01M479.7 180.4h.01M472.6 187.6h.01M512.4 139.0h.01M470.2 163.1h.01M480.1 143.2h.01M473.7 173.7h.01M486.6 152.2h.01M479.4 145.5h.01M472.3 163.0h.01M485.7 177.4h.01M495.2 164.9h.01M470.1 167.3h.01M482.9 175.3h.01M481.8 138.6h.01M486.4 185.8h.01M491.8 153.2h.01M506.5 139.0h.01M482.6 166.5h.01M505.0 152.2h.01M488.8 198.9h.01M483.3 167.4h.01M481.2 138.5h.01M523.6 147.9h.01M494.3 133.2h.01M497.9 160.9h.01M487.3 149.0h.01M484.3 180.9h.01M478.9 191.2h.01M507.8 146.9h.01M475.3 190.4h.01M472.1 183.3h.01M498.7 160.2h.01M497.5 134.8h.01M485.1 178.1h.01M476.4 177.2h.01M507.5 139.4h.01M511.2 140.2h.01M482.8 154.9h.01M499.9 157.6h.01M482.6 196.9h.01M523.1 144.4h.01M492.3 145.0h.01M477.7 147.9h.01M497.6 135.7h.01M491.9 156.8h.01M508.0 151.5h.01M479.0 158.5h.01M496.9 151.9h.01M480.9 157.8h.01M471.1 187.6h.01M481.7 166.2h.01M507.9 141.4h.01M467.6 171.9h.01M515.5 139.6h.01M513.2 150.0h.01M476.0 151.8h.01M489.1 154.5h.01M491.6 153.8h.01M505.1 142.8h.01M478.0 182.4h.01M491.4 159.1h.01M482.7 176.7h.01M486.2 198.0h.01M484.3 184.2h.01M520.3 141.4h.01M488.1 178.4h.01M495.9 151.8h.01M470.7 181.2h.01M471.4 184.8h.01M484.7 170.3h.01M477.4 141.9h.01M481.4 184.5h.01M465.6 162.7h.01M509.3 135.5h.01M490.2 167.9h.01M504.1 154.9h.01M501.6 151.4h.01M472.2 184.7h.01M504.9 154.2h.01M477.1 164.6h.01M492.9 135.2h.01M498.3 160.4h.01M477.6 152.2h.01M484.9 153.5h.01M475.3 179.5h.01M473.4 179.4h.01M476.7 174.4h.01M481.5 168.1h.01M500.6 137.1h.01M484.1 170.7h.01M487.0 168.9h.01M491.1 166.6h.01M491.6 159.6h.01M494.9 137.2h.01M490.1 166.4h.01M477.1 166.5h.01M519.1 140.5h.01M494.6 136.5h.01M464.8 168.7h.01M505.8 135.2h.01M498.5 153.5h.01M503.2 155.2h.01M465.4 166.5h.01M478.8 166.3h.01M484.2 137.9h.01M484.6 151.6h.01M515.7 148.9h.01M470.0 151.6h.01M483.4 151.5h.01M503.2 150.3h.01M479.0 189.9h.01M484.6 172.1h.01M497.7 159.5h.01M505.3 151.5h.01M476.4 141.1h.01M474.2 152.8h.01M481.3 152.1h.01M465.9 164.4h.01M495.1 162.8h.01M485.0 158.8h.01M481.3 150.5h.01M518.8 145.2h.01M483.7 177.1h.01M479.4 159.3h.01M484.2 149.1h.01M484.2 176.2h.01M470.8 165.8h.01M503.5 153.9h.01M503.9 138.9h.01M497.3 143.8h.01M496.8 144.2h.01M482.9 192.3h.01M487.4 137.6h.01M493.8 150.0h.01M476.8 159.6h.01M503.9 143.1h.01M496.7 134.0h.01M497.5 147.6h.01M478.7 146.3h.01M480.9 138.0h.01M467.4 172.9h.01M487.8 137.2h.01M471.3 178.1h.01M481.0 158.9h.01M488.5 141.7h.01M488.5 139.4h.01M477.9 190.3h.01M511.6 137.9h.01M515.7 142.0h.01M477.5 143.9h.01M485.7 153.6h.01M498.7 151.6h.01M485.0 181.2h.01M513.9 145.5h.01M470.5 178.6h.01M481.7 190.4h.01M482.6 163.3h.01M504.0 154.3h.01M500.6 133.5h.01M467.7 168.6h.01M480.2 192.4h.01M490.5 144.2h.01M488.2 138.5h.01M483.9 152.4h.01M480.6 179.4h.01M474.8 189.0h.01M469.0 161.2h.01M498.5 139.7h.01M486.7 182.8h.01M482.6 142.1h.01M501.8 141.4h.01" fill="none" stroke="#484848" stroke-width="1.05" stroke-linecap="round"/>
<circle cx="526.5" cy="188.3" r="38.2" fill="#e8690f" stroke="#63300e" stroke-width="2"/>
<circle cx="526" cy="186.5" r="29" fill="none" stroke="#8a4312" stroke-width="1"/>
<circle cx="526" cy="185.5" r="22" fill="none" stroke="#8a4312" stroke-width="1"/>
<path d="M333.0 92.0C332.6 94.8 331.5 103.7 330.7 108.8C329.9 113.9 328.5 118.2 328.2 122.6C327.9 127.0 328.2 131.7 329.0 135.0C329.8 138.3 331.9 140.2 333.2 142.6C334.5 145.0 337.0 146.6 337.0 149.5C337.0 152.4 335.9 156.2 333.0 160.0C330.1 163.8 324.1 166.8 319.5 172.0C314.9 177.2 310.1 183.7 305.4 191.3C300.7 198.9 295.7 210.1 291.3 217.5C286.9 224.9 282.9 229.9 279.0 235.7C275.1 241.4 269.8 249.3 268.0 252.0" class="o" style="stroke-width:1.3"/>
<path d="M339.5 150.0C338.9 151.9 338.9 157.5 336.0 161.5C333.1 165.5 326.7 168.8 322.0 174.0C317.3 179.2 312.5 185.5 307.8 193.0C303.1 200.5 298.2 211.6 293.8 219.0C289.4 226.4 283.6 234.4 281.5 237.5" class="t" style="stroke:#4d4d4d;stroke-width:.9"/>
<path d="M338.4 107.0C338.2 110.0 337.7 119.5 337.4 125.3C337.1 131.1 335.9 137.5 336.4 141.5C336.9 145.5 339.7 148.2 340.4 149.5" class="t" style="stroke:#4d4d4d;stroke-width:1"/>
<clipPath id="cl"><path d="M333.0 92.0L330.7 108.8L328.2 122.6L329.0 135.0L333.2 142.6L337.0 149.5L333.0 160.0L319.5 172.0L305.4 191.3L291.3 217.5L279.0 235.7L268.0 252.0L268.0 262.0L600.0 262.0L600.0 80.0L333.0 80.0Z"/></clipPath>
<clipPath id="cu"><path d="M333.0 92.0L330.7 108.8L328.2 122.6L329.0 135.0L333.2 142.6L337.0 149.5L333.0 160.0L319.5 172.0L305.4 191.3L291.3 217.5L279.0 235.7L268.0 252.0L268.0 262.0L298.0 270.0L304.0 261.0L326.0 231.0L349.0 199.0L371.0 169.0L382.0 150.0L385.0 130.0L386.0 100.0Z"/></clipPath>
<g clip-path="url(#cu)">
<path d="M372.0 173.0L304.0 189.0" fill="none" stroke="#4d4d4d" stroke-width="7.0" stroke-linecap="round" stroke-linejoin="round"/>
<path d="M372.0 173.0L304.0 189.0" fill="none" stroke="#fff" stroke-width="5.4" stroke-linecap="round" stroke-linejoin="round"/>
<path d="M357.5 193.0L289.5 209.0" fill="none" stroke="#4d4d4d" stroke-width="7.0" stroke-linecap="round" stroke-linejoin="round"/>
<path d="M357.5 193.0L289.5 209.0" fill="none" stroke="#fff" stroke-width="5.4" stroke-linecap="round" stroke-linejoin="round"/>
<path d="M343.0 213.5L275.0 229.5" fill="none" stroke="#4d4d4d" stroke-width="7.0" stroke-linecap="round" stroke-linejoin="round"/>
<path d="M343.0 213.5L275.0 229.5" fill="none" stroke="#fff" stroke-width="5.4" stroke-linecap="round" stroke-linejoin="round"/>
<path d="M328.5 234.0L260.5 250.0" fill="none" stroke="#4d4d4d" stroke-width="7.0" stroke-linecap="round" stroke-linejoin="round"/>
<path d="M328.5 234.0L260.5 250.0" fill="none" stroke="#fff" stroke-width="5.4" stroke-linecap="round" stroke-linejoin="round"/>
<path d="M314.0 254.0L246.0 270.0" fill="none" stroke="#4d4d4d" stroke-width="7.0" stroke-linecap="round" stroke-linejoin="round"/>
<path d="M314.0 254.0L246.0 270.0" fill="none" stroke="#fff" stroke-width="5.4" stroke-linecap="round" stroke-linejoin="round"/>
</g>
<path d="M386.0 100.0C385.8 105.0 385.7 121.7 385.0 130.0C384.3 138.3 384.3 143.5 382.0 150.0C379.7 156.5 376.5 160.8 371.0 169.0C365.5 177.2 356.5 188.7 349.0 199.0C341.5 209.3 333.5 220.7 326.0 231.0C318.5 241.3 308.7 254.5 304.0 261.0C299.3 267.5 299.0 268.5 298.0 270.0" class="o" style="stroke-width:1.7"/>
<circle cx="401.8" cy="98.0" r="9.2" fill="#fff" stroke="#4d4d4d" stroke-width="1.1"/>
<circle cx="401.2" cy="97.4" r="5.7" fill="#fff" stroke="#4d4d4d" stroke-width=".9"/>
<circle cx="400.3" cy="130.0" r="6.9" fill="#fff" stroke="#4d4d4d" stroke-width="1.1"/>
<circle cx="399.7" cy="129.4" r="4.3" fill="#fff" stroke="#4d4d4d" stroke-width=".9"/>
<circle cx="421.3" cy="171.4" r="6.4" fill="#fff" stroke="#4d4d4d" stroke-width="1.1"/>
<circle cx="420.7" cy="170.8" r="4.0" fill="#fff" stroke="#4d4d4d" stroke-width=".9"/>
<circle cx="384.5" cy="187.3" r="6.4" fill="#fff" stroke="#4d4d4d" stroke-width="1.1"/>
<circle cx="383.9" cy="186.7" r="4.0" fill="#fff" stroke="#4d4d4d" stroke-width=".9"/>
<circle cx="362.7" cy="207.8" r="6.4" fill="#fff" stroke="#4d4d4d" stroke-width="1.1"/>
<circle cx="362.1" cy="207.2" r="4.0" fill="#fff" stroke="#4d4d4d" stroke-width=".9"/>
<circle cx="343.5" cy="229.0" r="6.4" fill="#fff" stroke="#4d4d4d" stroke-width="1.1"/>
<circle cx="342.9" cy="228.4" r="4.0" fill="#fff" stroke="#4d4d4d" stroke-width=".9"/>
<circle cx="326.0" cy="251.0" r="6.4" fill="#fff" stroke="#4d4d4d" stroke-width="1.1"/>
<circle cx="325.4" cy="250.4" r="4.0" fill="#fff" stroke="#4d4d4d" stroke-width=".9"/>
<circle cx="309.5" cy="274.3" r="5.8" fill="#fff" stroke="#4d4d4d" stroke-width="1.1"/>
<circle cx="308.9" cy="273.7" r="3.6" fill="#fff" stroke="#4d4d4d" stroke-width=".9"/>
<path d="M339.0 150.0C342.5 150.3 352.5 149.3 360.0 152.0C367.5 154.7 380.0 163.7 384.0 166.0" fill="none" stroke="#4d4d4d" stroke-width="6.7" stroke-linecap="round" stroke-linejoin="round"/>
<path d="M339.0 150.0C342.5 150.3 352.5 149.3 360.0 152.0C367.5 154.7 380.0 163.7 384.0 166.0" fill="none" stroke="#fff" stroke-width="4.6" stroke-linecap="round" stroke-linejoin="round"/>
<path d="M340.0 120.0C344.2 123.3 355.8 133.7 365.0 140.0C374.2 146.3 385.8 152.9 395.0 158.0C404.2 163.1 416.2 168.4 420.5 170.5" fill="none" stroke="#4d4d4d" stroke-width="7.9" stroke-linecap="round" stroke-linejoin="round"/>
<path d="M340.0 120.0C344.2 123.3 355.8 133.7 365.0 140.0C374.2 146.3 385.8 152.9 395.0 158.0C404.2 163.1 416.2 168.4 420.5 170.5" fill="none" stroke="#fff" stroke-width="5.8" stroke-linecap="round" stroke-linejoin="round"/>
<path d="M338.0 136.0C343.3 135.8 359.7 135.5 370.0 134.5C380.3 133.5 395.0 130.6 400.0 129.8" fill="none" stroke="#4d4d4d" stroke-width="7.9" stroke-linecap="round" stroke-linejoin="round"/>
<path d="M338.0 136.0C343.3 135.8 359.7 135.5 370.0 134.5C380.3 133.5 395.0 130.6 400.0 129.8" fill="none" stroke="#fff" stroke-width="5.8" stroke-linecap="round" stroke-linejoin="round"/>
<path d="M339.0 112.0C342.5 113.7 353.2 117.7 360.0 122.0C366.8 126.3 376.7 135.3 380.0 138.0" fill="none" stroke="#4d4d4d" stroke-width="6.7" stroke-linecap="round" stroke-linejoin="round"/>
<path d="M339.0 112.0C342.5 113.7 353.2 117.7 360.0 122.0C366.8 126.3 376.7 135.3 380.0 138.0" fill="none" stroke="#fff" stroke-width="4.6" stroke-linecap="round" stroke-linejoin="round"/>
<g clip-path="url(#cl)">
<path d="M344.5 145.3C348.3 149.4 360.9 162.9 367.5 169.8C374.1 176.7 381.2 184.0 384.0 186.8" fill="none" stroke="#4d4d4d" stroke-width="9.0" stroke-linecap="round" stroke-linejoin="round"/>
<path d="M344.5 145.3C348.3 149.4 360.9 162.9 367.5 169.8C374.1 176.7 381.2 184.0 384.0 186.8" fill="none" stroke="#fff" stroke-width="6.9" stroke-linecap="round" stroke-linejoin="round"/>
<path d="M322.7 165.8C326.5 169.9 339.1 183.4 345.7 190.3C352.3 197.2 359.4 204.5 362.2 207.3" fill="none" stroke="#4d4d4d" stroke-width="9.0" stroke-linecap="round" stroke-linejoin="round"/>
<path d="M322.7 165.8C326.5 169.9 339.1 183.4 345.7 190.3C352.3 197.2 359.4 204.5 362.2 207.3" fill="none" stroke="#fff" stroke-width="6.9" stroke-linecap="round" stroke-linejoin="round"/>
<path d="M303.5 187.0C307.3 191.1 319.9 204.6 326.5 211.5C333.1 218.4 340.2 225.7 343.0 228.5" fill="none" stroke="#4d4d4d" stroke-width="9.0" stroke-linecap="round" stroke-linejoin="round"/>
<path d="M303.5 187.0C307.3 191.1 319.9 204.6 326.5 211.5C333.1 218.4 340.2 225.7 343.0 228.5" fill="none" stroke="#fff" stroke-width="6.9" stroke-linecap="round" stroke-linejoin="round"/>
<path d="M286.0 209.0C289.8 213.1 302.4 226.6 309.0 233.5C315.6 240.4 322.8 247.7 325.5 250.5" fill="none" stroke="#4d4d4d" stroke-width="9.0" stroke-linecap="round" stroke-linejoin="round"/>
<path d="M286.0 209.0C289.8 213.1 302.4 226.6 309.0 233.5C315.6 240.4 322.8 247.7 325.5 250.5" fill="none" stroke="#fff" stroke-width="6.9" stroke-linecap="round" stroke-linejoin="round"/>
<path d="M269.5 232.3C273.3 236.4 285.9 249.9 292.5 256.8C299.1 263.7 306.2 271.0 309.0 273.8" fill="none" stroke="#4d4d4d" stroke-width="9.0" stroke-linecap="round" stroke-linejoin="round"/>
<path d="M269.5 232.3C273.3 236.4 285.9 249.9 292.5 256.8C299.1 263.7 306.2 271.0 309.0 273.8" fill="none" stroke="#fff" stroke-width="6.9" stroke-linecap="round" stroke-linejoin="round"/>
</g>
<path d="M350.0 104.5C355.0 104.3 371.4 104.7 380.0 103.5C388.6 102.3 397.9 98.5 401.5 97.5" fill="none" stroke="#4d4d4d" stroke-width="8.1" stroke-linecap="round" stroke-linejoin="round"/>
<path d="M350.0 104.5C355.0 104.3 371.4 104.7 380.0 103.5C388.6 102.3 397.9 98.5 401.5 97.5" fill="none" stroke="#fff" stroke-width="6.0" stroke-linecap="round" stroke-linejoin="round"/>
<path d="M354.0 95.6C351.5 95.3 340.7 95.9 335.0 97.5C329.3 99.1 325.2 101.0 320.0 105.0C314.8 109.0 308.4 116.3 303.8 121.3C299.2 126.3 294.0 132.0 292.5 135.0C291.0 138.0 292.9 139.1 295.0 139.5C297.1 139.9 301.0 139.8 305.0 137.6C309.0 135.4 314.8 131.0 318.8 126.4C322.8 121.8 325.8 113.8 328.9 110.0C332.0 106.2 334.1 105.5 337.6 103.8C341.1 102.0 347.3 100.9 350.0 99.5C352.7 98.1 356.5 95.9 354.0 95.6Z" class="o" style="fill:#fff;stroke-width:1.6"/>
<path d="M346.0 98.0C343.7 98.7 332.4 101.5 326.4 105.0C320.4 108.5 314.6 114.2 310.0 118.8C305.4 123.4 300.2 130.0 298.8 132.6C297.4 135.2 298.8 136.2 301.3 134.5C303.8 132.8 309.6 127.1 313.8 122.6C318.0 118.1 322.0 111.2 326.4 107.6C330.8 104.0 336.7 102.4 340.0 100.8C343.3 99.2 348.3 97.3 346.0 98.0Z" class="t" style="stroke:#4d4d4d;stroke-width:1.2"/>
<path d="M354.5 100.0C353.5 103.2 350.3 111.4 348.5 119.0C346.7 126.6 344.6 137.3 343.8 145.5C343.1 153.7 342.8 162.0 344.0 168.0C345.2 174.0 347.2 178.4 351.0 181.5C354.8 184.6 362.0 186.5 366.7 186.5C371.4 186.5 375.6 184.1 379.0 181.5C382.4 178.9 385.4 175.3 387.0 171.0C388.6 166.7 389.6 160.9 388.9 155.6C388.2 150.3 385.8 145.5 382.8 139.4C379.8 133.3 374.6 125.4 370.7 119.0C366.8 112.6 361.4 104.0 359.5 101.0" fill="none" stroke="#4d4d4d" stroke-width="8.3" stroke-linecap="round" stroke-linejoin="round"/>
<path d="M354.5 100.0C353.5 103.2 350.3 111.4 348.5 119.0C346.7 126.6 344.6 137.3 343.8 145.5C343.1 153.7 342.8 162.0 344.0 168.0C345.2 174.0 347.2 178.4 351.0 181.5C354.8 184.6 362.0 186.5 366.7 186.5C371.4 186.5 375.6 184.1 379.0 181.5C382.4 178.9 385.4 175.3 387.0 171.0C388.6 166.7 389.6 160.9 388.9 155.6C388.2 150.3 385.8 145.5 382.8 139.4C379.8 133.3 374.6 125.4 370.7 119.0C366.8 112.6 361.4 104.0 359.5 101.0" fill="none" stroke="#fff" stroke-width="6.2" stroke-linecap="round" stroke-linejoin="round"/>
<path d="M154.0 100.5L314.0 100.5L462.0 141.5" class="ld"/>
<path d="M154.0 159.5L313.0 159.5L494.0 212.5" class="ld"/>
<path d="M48.0 231.5L140.0 231.5" class="ld"/>
<path d="M753.5 204.5L581.0 204.5L562.0 215.5L596.5 192.0" class="ld"/>
<path d="M753.5 373.5L415.0 373.5" class="ld"/>
<path d="M304.0 267.5L384.0 328.0" class="ld"/>
<path d="M515.8 134.5L566.0 96.5" class="ld"/>
<path d="M520.0 116.0L556.0 151.0" class="ld"/>
<path d="M91 281C91 267 99 257 107.5 251C120 244 150 227 166 217.5L190 234.5C215 234 240 231.5 258 231.8C276 232 296 247 304 266.5C262 284.5 205 293.5 140 292C118 291 100 286 91 281Z" style="fill:#8c8c8c;stroke:#474747;stroke-width:1.4;stroke-linejoin:round"/>
<path d="M166 217.5C170 213 178 213 184 215.5C192 219 197 225 200 229.5C195 233 188 234.5 182 233.5C174 232 167 226 166 217.5Z" style="fill:#5c5c5c;stroke:#474747;stroke-width:1.2"/>
<path d="M166.5 224.0C160.8 226.8 142.9 234.2 132.5 240.5C122.1 246.8 110.2 255.0 104.0 262.0C97.8 269.0 96.9 279.1 95.5 282.5" style="fill:none;stroke:#474747;stroke-width:.9"/>
<path d="M170.0 229.0C164.7 231.4 147.4 237.7 138.0 243.5C128.6 249.3 118.8 256.9 113.5 264.0C108.2 271.1 107.2 282.3 106.0 286.0" style="fill:none;stroke:#474747;stroke-width:.9"/>
<path d="M176.0 232.0C171.0 234.2 154.6 239.4 146.0 245.0C137.4 250.6 129.2 258.2 124.5 265.5C119.8 272.8 118.7 285.1 117.5 289.0" style="fill:none;stroke:#474747;stroke-width:.9"/>
<path d="M184.0 234.0C179.3 236.1 164.0 241.1 156.0 246.5C148.0 251.9 140.5 259.2 136.0 266.5C131.5 273.8 130.2 286.5 129.0 290.5" style="fill:none;stroke:#474747;stroke-width:.9"/>
<path d="M191.0 234.5C186.8 236.7 173.2 242.0 166.0 247.5C158.8 253.0 151.8 260.2 147.5 267.5C143.2 274.8 141.7 287.5 140.5 291.5" style="fill:none;stroke:#474747;stroke-width:.9"/>
<path d="M633.0 48.2C631.0 48.8 624.7 50.1 621.0 51.5C617.3 52.9 615.8 53.1 610.7 56.3C605.6 59.4 597.2 64.7 590.5 70.4C583.8 76.1 575.3 83.9 570.3 90.6C565.2 97.3 562.7 104.2 560.2 110.8C557.7 117.4 556.4 124.1 555.3 130.0C554.1 135.9 553.3 141.2 553.3 146.0C553.2 150.8 554.7 156.5 555.0 158.6C557.7 156.7 565.8 151.0 571.0 147.0C576.2 143.0 581.8 139.1 586.0 134.5C590.2 129.9 594.7 121.9 596.4 119.4C598.8 116.5 606.4 107.1 610.5 102.0C614.6 96.9 617.8 92.3 620.8 88.6C623.8 84.8 626.4 82.4 628.7 79.5C631.0 76.6 632.8 73.9 634.5 71.0C636.2 68.1 637.9 65.4 639.0 62.3C640.1 59.2 640.7 53.9 641.0 52.2C640.4 51.6 638.8 49.5 637.5 48.8C636.2 48.1 633.8 48.3 633.0 48.2Z" style="fill:#6f6f6f;stroke:#474747;stroke-width:1.3;stroke-linejoin:round"/>
<path d="M641.0 52.2C642.0 53.5 645.0 57.0 647.0 60.0C649.0 63.0 651.2 67.1 653.0 70.4C654.8 73.7 656.3 76.6 658.0 80.0C659.7 83.4 661.5 86.9 663.0 90.6C664.5 94.3 665.9 98.6 667.0 102.0C668.1 105.4 668.8 107.8 669.5 111.0C670.2 114.2 671.3 118.3 671.5 121.0C671.7 123.7 671.9 124.2 670.5 127.0C669.1 129.8 664.2 135.8 663.0 137.5C660.3 139.7 654.0 144.6 647.0 150.5C640.0 156.4 629.2 165.8 620.8 172.7C612.4 179.6 600.6 188.8 596.6 192.0C595.5 190.0 592.0 184.5 590.3 180.0C588.6 175.5 587.1 169.7 586.3 164.8C585.5 159.9 585.0 155.8 585.3 150.7C585.6 145.6 586.4 139.7 588.3 134.5C590.1 129.3 595.0 121.9 596.4 119.4C598.8 116.5 606.4 107.1 610.5 102.0C614.6 96.9 617.8 92.3 620.8 88.6C623.8 84.8 626.4 82.4 628.7 79.5C631.0 76.6 632.8 73.9 634.5 71.0C636.2 68.1 637.9 65.4 639.0 62.3C640.1 59.2 640.7 53.9 641.0 52.2Z" style="fill:#9b9b9b;stroke:#474747;stroke-width:1.3;stroke-linejoin:round"/>
<path d="M632.0 79.5C632.8 81.6 635.5 87.5 637.0 92.0C638.5 96.5 639.7 100.5 641.0 106.8C642.3 113.1 644.0 122.7 645.0 130.0C646.0 137.3 646.7 147.1 647.0 150.5" style="fill:none;stroke:#474747;stroke-width:.9"/>
<path d="M637.0 73.4C638.2 75.7 642.0 82.5 644.0 87.0C646.0 91.5 647.3 94.2 649.0 100.7C650.7 107.2 652.9 119.0 654.0 126.0C655.1 132.9 655.2 139.7 655.5 142.4" style="fill:none;stroke:#474747;stroke-width:.9"/>
<path d="M641.0 65.4C642.3 67.5 646.7 73.8 649.0 78.0C651.3 82.2 652.7 83.6 655.0 90.6C657.3 97.6 661.6 112.6 663.0 120.0C664.4 127.4 663.5 132.5 663.6 135.0" style="fill:none;stroke:#474747;stroke-width:.9"/>
<path d="M633 48.2C637 52 639.5 58 638.5 66" style="fill:none;stroke:#474747;stroke-width:.8"/>
<path d="M627.5 49.8C632.5 54 635 62 634 72" style="fill:none;stroke:#474747;stroke-width:.8"/>
<text x="152.9" y="77.0" class="lbl" text-anchor="start" textLength="115.2" lengthAdjust="spacingAndGlyphs">Foam impact</text>
<text x="152.9" y="93.0" class="lbl" text-anchor="start" textLength="82.7" lengthAdjust="spacingAndGlyphs">absorber</text>
<text x="152.9" y="137.5" class="lbl" text-anchor="start" textLength="96.2" lengthAdjust="spacingAndGlyphs">Hard ankle</text>
<text x="152.9" y="153.5" class="lbl" text-anchor="start" textLength="49.7" lengthAdjust="spacingAndGlyphs">cover</text>
<text x="47.4" y="194.0" class="lbl" text-anchor="start" textLength="109.7" lengthAdjust="spacingAndGlyphs">Hard toecap</text>
<text x="47.4" y="210.0" class="lbl" text-anchor="start" textLength="106.2" lengthAdjust="spacingAndGlyphs">to reinforce</text>
<text x="47.4" y="225.7" class="lbl" text-anchor="start" textLength="84.7" lengthAdjust="spacingAndGlyphs">toes area</text>
<text x="754.7" y="182.0" class="lbl" text-anchor="end" textLength="73.8" lengthAdjust="spacingAndGlyphs">Heelcap</text>
<text x="754.7" y="198.6" class="lbl" text-anchor="end" textLength="105.4" lengthAdjust="spacingAndGlyphs">for stability</text>
<text x="754.7" y="335.0" class="lbl" text-anchor="end" textLength="47.6" lengthAdjust="spacingAndGlyphs">Steel</text>
<text x="754.7" y="351.0" class="lbl" text-anchor="end" textLength="99.8" lengthAdjust="spacingAndGlyphs">reinforcing</text>
<text x="754.7" y="367.0" class="lbl" text-anchor="end" textLength="54.2" lengthAdjust="spacingAndGlyphs">shank</text>
<text x="21" y="37" font-family="Liberation Sans,sans-serif" font-weight="bold" font-size="21.5" fill="#eff0f5" textLength="153" lengthAdjust="spacingAndGlyphs">todortodorov</text>
<text x="691" y="481" font-family="Liberation Sans,sans-serif" font-weight="bold" font-size="40" fill="#fff" stroke="#fff" stroke-width="1.5" textLength="96" lengthAdjust="spacingAndGlyphs" style="filter:drop-shadow(.4px .6px 1.1px #c2c2c2)">BAZAR</text>
<path d="M751 458L762 449.5L772 457" fill="none" stroke="#fff" stroke-width="3.2" stroke-linejoin="round" stroke-linecap="round" style="filter:drop-shadow(.4px .6px 1.1px #c2c2c2)"/>
</svg>
</body></html>
